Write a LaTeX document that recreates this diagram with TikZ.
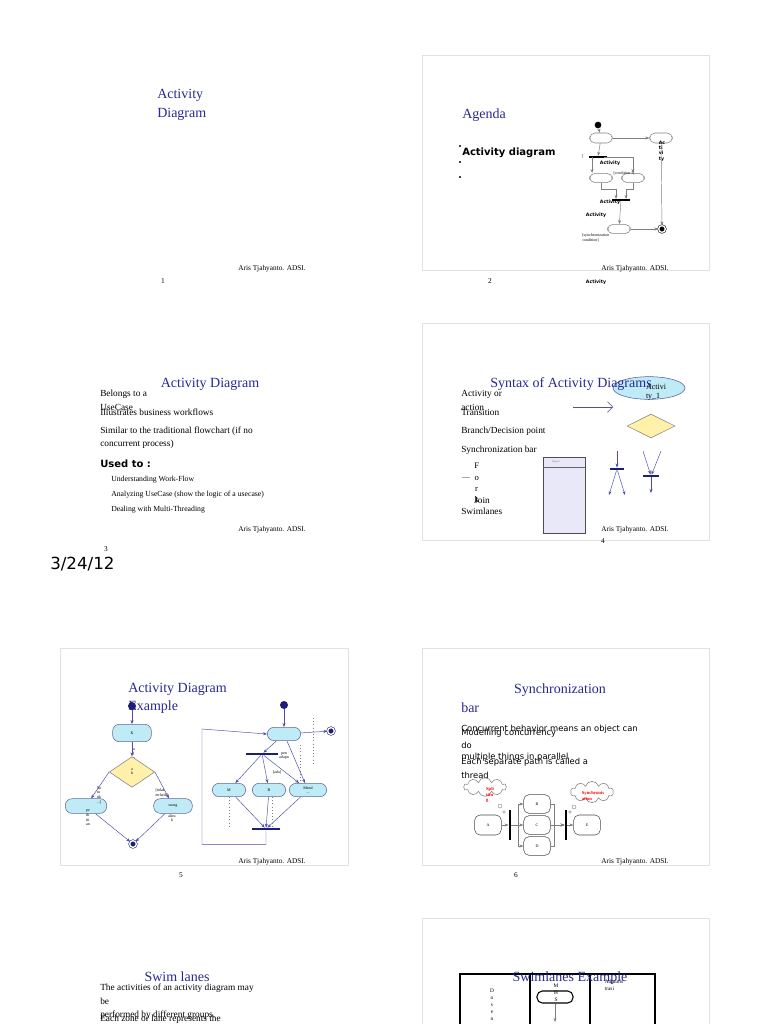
\documentclass[tikz,border=0pt]{standalone}
\usepackage{fontspec}
\setmainfont{Liberation Serif}
\newfontfamily\dv{DejaVu Sans}
\usetikzlibrary{shapes.geometric,shapes.symbols,arrows.meta}
\definecolor{ttl}{RGB}{40,40,150}
\definecolor{acyan}{RGB}{190,235,245}
\definecolor{dyel}{RGB}{255,240,170}
\definecolor{lav}{RGB}{232,232,248}
\definecolor{navy}{RGB}{30,30,120}
\definecolor{frame}{RGB}{225,225,225}
\tikzset{
 slide/.style={draw=frame,line width=0.6pt},
 ttlt/.style={text=ttl,font=\fontsize{10.5}{12}\selectfont,inner sep=0pt},
 body/.style={font=\fontsize{7}{8}\selectfont,inner sep=0pt,anchor=west},
 foot/.style={font=\fontsize{5.5}{6}\selectfont,inner sep=0pt},
 tiny/.style={font=\fontsize{3}{3.5}\selectfont,inner sep=0pt,align=center},
 act/.style={draw=gray,rounded corners=4pt,line width=0.4pt},
 cact/.style={draw=gray!80!blue,fill=acyan,rounded corners=5pt,line width=0.4pt},
 bar/.style={fill=navy,inner sep=0pt},
 dot/.style={circle,fill=navy,inner sep=0pt,minimum size=6pt},
 enddot/.style={circle,draw=navy,fill=navy,double=white,double distance=1pt,inner sep=0pt,minimum size=5pt},
 garr/.style={draw=gray,line width=0.35pt,-{Stealth[length=3pt]}},
 barr/.style={draw=blue!40!gray,line width=0.35pt,-{Stealth[length=3pt]}},
}
\begin{document}
\begin{tikzpicture}[x=0.75pt,y=-0.75pt]
\useasboundingbox (0,0) rectangle (768,1024);
\fill[white] (0,0) rectangle (768,1024);
% ---------- Slide 1
\node[ttlt,anchor=west] (t1a) at (157,95) {Activity};
\node[ttlt,anchor=west] (t1b) at (157,114) {Diagram};
\node[foot] (f1) at (272,269) {Aris Tjahyanto. ADSI.};
\node[foot] (n1) at (163,281) {1};
% ---------- Slide 2
\draw[slide] (422,55) rectangle (709,270);
\node[ttlt,anchor=west] (t2) at (462,115) {Agenda};
\foreach \y in {146,162,177} \fill (460,\y) circle (0.8pt);
\node[body,font=\dv\bfseries\fontsize{7.5}{8}\selectfont] (ad) at (462,153) {Activity diagram};
\node[dot,fill=black,minimum size=5pt] (s2) at (598,125) {};
\node[act,minimum width=17pt,minimum height=7.5pt] (b21) at (601,138) {};
\node[act,minimum width=17pt,minimum height=7.5pt] (b22) at (661,138) {};
\node[font=\dv\bfseries\fontsize{3.5}{4}\selectfont,inner sep=0pt,align=left] (b22t) at (662,151) {Ac\\ti\\vi\\ty};
\node[fill=black,minimum width=13pt,minimum height=1.4pt,inner sep=0pt] (fk2) at (598,157) {};
\node[act,minimum width=17pt,minimum height=7pt] (b23) at (601,178) {};
\node[act,minimum width=17pt,minimum height=7pt] (b24) at (633,178) {};
\node[fill=black,minimum width=13pt,minimum height=1.4pt,inner sep=0pt] (jn2) at (621,200) {};
\node[act,minimum width=17pt,minimum height=7pt] (b25) at (619,229) {};
\node[enddot,fill=black,draw=black] (e2) at (662,229) {};
\draw[garr] (s2) -- (b21);
\draw[garr] (b21) -- (b22);
\draw[garr] (b21) -- (fk2);
\draw[garr] (fk2.west) ++(3,0) -- ++(0,16);
\draw[garr] (fk2.east) ++(-3,0) -| (633,173);
\draw[garr] (b23.south) -- ++(0,6) -| (616,199);
\draw[garr] (b24.south) -- ++(0,6) -| (626,199);
\draw[garr] (jn2) -- (b25);
\draw[garr] (b25) -- (e2);
\draw[garr] (b22) -- (e2);
\node[font=\dv\bfseries\fontsize{3.5}{4}\selectfont,inner sep=0pt] (l21) at (610,163) {Activity};
\node[font=\dv\bfseries\fontsize{3.5}{4}\selectfont,inner sep=0pt] (l22) at (610,202) {Activity};
\node[font=\dv\bfseries\fontsize{3.5}{4}\selectfont,inner sep=0pt] (l23) at (596,215) {Activity};
\node[font=\dv\bfseries\fontsize{3.5}{4}\selectfont,inner sep=0pt] (l24) at (596,282) {Activity};
\node[tiny,anchor=west,align=left] (sc2) at (582,238) {[synchronization\\condition]};
\node[tiny] (c2a) at (583,156) {[};
\node[tiny] (c2b) at (624,173) {[condition 1]};
\node[foot] (f2) at (635,269) {Aris Tjahyanto. ADSI.};
\node[foot] (n2) at (490,281) {2};
% ---------- Slide 3
\node[ttlt] (t3) at (210,384) {Activity Diagram};
\node[body] at (100,394) {Belongs to a};
\node[body] at (100,407) {UseCase};
\node[body] at (100,412) {Illustrates business workflows};
\node[body] at (100,431) {Similar to the traditional flowchart (if no};
\node[body] at (100,444) {concurrent process)};
\node[body,font=\dv\bfseries\fontsize{7.5}{8}\selectfont] at (100,464) {Used to :};
\node[body,font=\fontsize{5.8}{7}\selectfont] at (111,480) {Understanding Work-Flow};
\node[body,font=\fontsize{5.8}{7}\selectfont] at (111,495) {Analyzing UseCase (show the logic of a usecase)};
\node[body,font=\fontsize{5.8}{7}\selectfont] at (111,510) {Dealing with Multi-Threading};
\node[foot] (f3) at (272,530) {Aris Tjahyanto. ADSI.};
\node[foot] (n3) at (106,549) {3};
\node[anchor=west,inner sep=0pt,font=\dv\fontsize{12.5}{14}\selectfont] (date) at (50,564) {3/24/12};
% ---------- Slide 4
\draw[slide] (422,323) rectangle (709,540);
\node[ellipse,draw=blue!30!gray,fill=acyan,minimum width=54pt,minimum height=17pt,inner sep=0pt] (el4) at (649,388) {};
\node[ttlt] (t4) at (571,384) {Syntax of Activity Diagrams};
\node[font=\fontsize{6}{6.5}\selectfont,inner sep=0pt,align=left] (el4t) at (656,392) {Activi\\ty\_1};
\node[body] at (461,394) {Activity or};
\node[body] at (461,407) {action};
\node[body] at (461,412) {Transition};
\node[body] at (461,431) {Branch/Decision point};
\node[body] at (461,450) {Synchronization bar};
\node[body,align=center,font=\fontsize{6.5}{8.5}\selectfont] at (474,483) {F\\o\\r\\k};
\node[body] at (474,500) {Join};
\node[body] at (461,511) {Swimlanes};
\draw[gray!70,line width=0.3pt] (462,477) -- (470,477);
\coordinate (tr1) at (573,407);
\draw[barr,-{Straight Barb[length=4pt]}] (tr1) -- (613,407);
\node[diamond,draw=gray,fill=dyel,minimum width=36pt,minimum height=18pt,inner sep=0pt] (dm4) at (651,426) {};
\draw[fill=lav,draw=black!70,line width=0.4pt] (543,457) rectangle (585,533);
\draw[black!60,line width=0.3pt] (543,467) -- (585,467);
\node[font=\fontsize{2}{2}\selectfont,inner sep=0pt,gray] (sl4) at (556,462) {Region};
\node[bar,minimum width=11pt,minimum height=1.8pt] (fk4) at (617,469) {};
\node[bar,minimum width=12pt,minimum height=1.8pt] (jn4) at (651,476) {};
\draw[barr] (617,451) -- (fk4);
\draw[barr] (fk4) -- (609,495);
\draw[barr] (fk4) -- (625,495);
\draw[barr] (643,451) -- (jn4);
\draw[barr] (661,451) -- (jn4);
\draw[barr] (jn4) -- (651,493);
\node[foot] (f4) at (635,530) {Aris Tjahyanto. ADSI.};
\node[foot] (n4) at (603,541) {4};
% ---------- Slide 5
\draw[slide] (60,648) rectangle (348,865);
\node[ttlt,anchor=west] (t5a) at (128,689) {Activity Diagram};
\node[ttlt,anchor=west] (t5b) at (128,707) {Example};
\node[dot] (s5) at (132,706) {};
\node[cact,minimum width=29pt,minimum height=13pt,inner sep=0pt,font=\fontsize{3}{3}\selectfont] (k5) at (132,733) {K};
\node[tiny,align=center] at (134,754) {a\\j\\a};
\node[diamond,draw=gray,fill=dyel,minimum width=34pt,minimum height=23pt,inner sep=0pt,font=\fontsize{3}{3}\selectfont,align=center] (d5) at (132,772) {a\\h};
\node[cact,minimum width=31pt,minimum height=11pt] (l5) at (86,806) {};
\node[cact,minimum width=29pt,minimum height=11pt,font=\fontsize{3}{3}\selectfont,inner sep=0pt] (r5) at (173,806) {racng};
\node[tiny,align=left] at (88,818) {pe\\rh\\iti\\an};
\node[tiny,align=left] at (99,795) {[lu\\ru\\rik\\...]};
\node[tiny,align=left] at (162,793) {[tidak\\terlarik]};
\node[tiny] at (172,818) {aliru\\k};
\node[enddot] (e5) at (133,844) {};
\draw[barr] (s5) -- (k5);
\draw[barr] (k5) -- (d5);
\draw[barr] (d5.west) -- (l5);
\draw[barr] (d5.east) -- (r5);
\draw[barr] (l5) -- (e5);
\draw[barr] (r5) -- (e5);
\node[dot] (s5b) at (284,705) {};
\node[cact,minimum width=25pt,minimum height=10pt] (a5) at (284,734) {};
\node[enddot] (e5b) at (331,731) {};
\node[bar,minimum width=24pt,minimum height=1.6pt] (fk5) at (262,754) {};
\node[cact,minimum width=25pt,minimum height=10pt,font=\fontsize{3}{3}\selectfont,inner sep=0pt] (m5) at (229,790) {M};
\node[cact,minimum width=25pt,minimum height=10pt,font=\fontsize{3}{3}\selectfont,inner sep=0pt] (b5) at (269,790) {B};
\node[cact,minimum width=28pt,minimum height=10pt,font=\fontsize{3}{3}\selectfont,inner sep=0pt,align=center] (n5) at (308,790) {Mend\\...};
\node[bar,minimum width=21pt,minimum height=1.6pt] (jn5) at (266,829) {};
\draw[barr] (s5b) -- (a5);
\draw[barr] (a5) -- (e5b);
\draw[barr] (a5) -- (fk5);
\draw[barr] (a5) -- (n5);
\draw[barr] (fk5) -- (m5);
\draw[barr] (fk5) -- (b5);
\draw[barr] (fk5) -- (n5);
\draw[barr] (m5) -- (jn5);
\draw[barr] (b5) -- (jn5);
\draw[barr] (n5) -- (jn5);
\draw[barr] (jn5.south) -- ++(0,14) -| (202,729) -- (a5.west);
\draw[gray,dotted,line width=0.4pt] (313,718) -- (313,765);
\draw[gray,dotted,line width=0.4pt] (229,797) -- (229,828);
\draw[gray,dotted,line width=0.4pt] (272,797) -- (272,828);
\draw[gray,dotted,line width=0.4pt] (300,745) -- (300,785);
\node[tiny] at (284,756) {pen\\adapn};
\node[tiny] at (277,772) {[ada]};
\node[foot] (f5) at (272,862) {Aris Tjahyanto. ADSI.};
\node[foot] (n5n) at (181,875) {5};
% ---------- Slide 6
\draw[slide] (422,648) rectangle (709,865);
\node[ttlt] (t6a) at (560,690) {Synchronization};
\node[ttlt,anchor=west] (t6b) at (461,708) {bar};
\node[body,font=\dv\fontsize{6.3}{7}\selectfont] at (461,729) {Concurrent behavior means an object can};
\node[body,font=\dv\fontsize{6.3}{7}\selectfont] at (461,733) {Modelling concurrency};
\node[body,font=\dv\fontsize{6.3}{7}\selectfont] at (461,745) {do};
\node[body,font=\dv\fontsize{6.3}{7}\selectfont] at (461,757) {multiple things in parallel};
\node[body,font=\dv\fontsize{6.3}{7}\selectfont] at (461,762) {Each separate path is called a};
\node[body,font=\dv\fontsize{6.3}{7}\selectfont] at (461,775) {thread};
\node[act,draw=black!70,minimum width=20pt,minimum height=15pt,font=\fontsize{3}{3}\selectfont,inner sep=0pt] (A6) at (488,825) {A};
\node[fill=black,minimum width=1.8pt,minimum height=22pt,inner sep=0pt] (br1) at (510,825) {};
\node[act,draw=black!70,minimum width=20pt,minimum height=14pt,font=\fontsize{3}{3}\selectfont,inner sep=0pt] (B6) at (537,804) {B};
\node[act,draw=black!70,minimum width=20pt,minimum height=14pt,font=\fontsize{3}{3}\selectfont,inner sep=0pt] (C6) at (537,825) {C};
\node[act,draw=black!70,minimum width=20pt,minimum height=14pt,font=\fontsize{3}{3}\selectfont,inner sep=0pt] (D6) at (537,846) {D};
\node[fill=black,minimum width=1.8pt,minimum height=22pt,inner sep=0pt] (br2) at (566,825) {};
\node[act,draw=black!70,minimum width=20pt,minimum height=15pt,font=\fontsize{3}{3}\selectfont,inner sep=0pt] (E6) at (587,825) {E};
\draw[garr] (A6) -- (br1);
\draw[garr] (br1) -- (C6);
\draw[garr] (br1.east) -- ++(7,0) |- (B6.west);
\draw[garr] (br1.east) ++(7,0) |- (D6.west);
\draw[garr] (B6.east) -- ++(4,0) |- (br2.west);
\draw[garr] (C6) -- (br2);
\draw[garr] (D6.east) -- ++(4,0) |- (br2.west);
\draw[garr] (br2) -- (E6);
\node[cloud,draw=gray,cloud puffs=10,minimum width=32pt,minimum height=14pt,inner sep=0pt] (cl1) at (485,787) {};
\node[tiny,text=red,font=\bfseries\fontsize{3.5}{4}\selectfont,align=left] (cl1t) at (490,795) {Spli\\ttin\\g};
\node[cloud,draw=gray,cloud puffs=10,minimum width=32pt,minimum height=16pt,inner sep=0pt] (cl2) at (592,792) {};
\node[tiny,text=red,font=\bfseries\fontsize{3.5}{4}\selectfont,align=left] (cl2t) at (593,796) {Synchronis\\ation};
\draw[gray,line width=0.3pt] (500,806) circle (1.5pt) (504,812) circle (1pt);
\draw[gray,line width=0.3pt] (574,807) circle (1.5pt) (570,812) circle (1pt);
\node[foot] (f6) at (635,862) {Aris Tjahyanto. ADSI.};
\node[foot] (n6) at (516,875) {6};
% ---------- Slide 7
\node[ttlt] (t7) at (177,977) {Swim lanes};
\node[body] at (100,988) {The activities of an activity diagram may};
\node[body] at (100,1001) {be};
\node[body] at (100,1015) {performed by different groups.};
\node[body] at (100,1019) {Each zone or lane represents the};
% ---------- Slide 8
\draw[slide] (422,1030) -- (422,918) -- (709,918) -- (709,1030);
\draw[black,line width=1pt] (460,1030) -- (460,974) -- (655,974) -- (655,1030);
\draw[black,line width=1pt] (530,974) -- (530,1030) (590,974) -- (590,1030);
\node[act,draw=black,line width=0.8pt,minimum width=27pt,minimum height=9pt] (mhs) at (555,997) {};
\node[ttlt] (t8) at (570,978) {Swimlanes Example};
\node[tiny,font=\fontsize{4}{5.2}\selectfont] at (492,1005) {D\\o\\s\\e\\n};
\node[tiny,font=\fontsize{4}{5.2}\selectfont] at (556,993) {M\\H\\S};
\node[tiny,font=\fontsize{4}{5}\selectfont,align=left] at (614,985) {Adminis\\trasi};
\draw[garr] (mhs) -- (555,1022);
\end{tikzpicture}
\end{document}
